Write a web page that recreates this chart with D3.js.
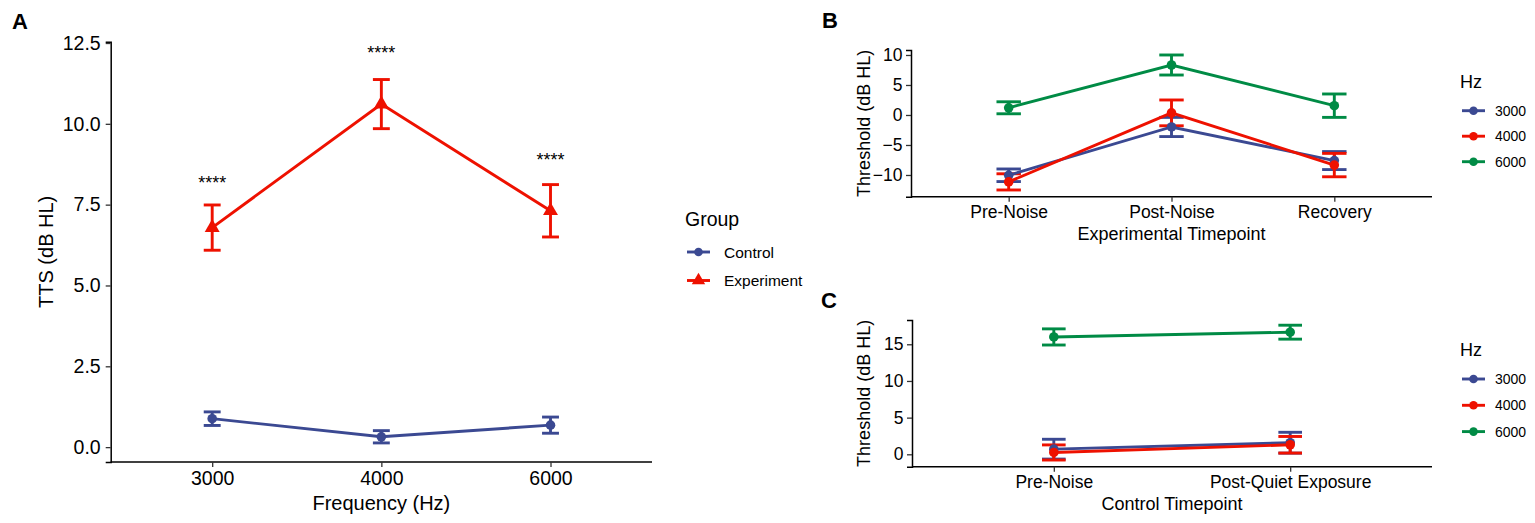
<!DOCTYPE html>
<html>
<head>
<meta charset="utf-8">
<script src="https://cdn.jsdelivr.net/npm/d3@7"></script>
<style>
  body { margin: 0; background: #fff; }
  svg { display: block; font-family: "Liberation Sans", Arial, sans-serif; }
</style>
</head>
<body>
<div id="chart-container"></div>
<script>
// ---- data ----
// Panel A: TTS by frequency
const freqs = ["3000", "4000", "6000"];
const ttsControl = [0.88, 0.32, 0.68];
const ttsControlSe = [0.21, 0.19, 0.25];
const ttsExperiment = [6.79, 10.61, 7.31];
const ttsExperimentSe = [0.70, 0.76, 0.81];
const sigLabels = ["****", "****", "****"];
const sigLabelY = [8.3, 12.3, 9.0];
const ticksA = [0, 2.5, 5, 7.5, 10, 12.5];

// Panel B: experimental group thresholds
const timepointsB = ["Pre-Noise", "Post-Noise", "Recovery"];
const b3000 = [-10.05, -2.0, -7.6];
const b3000Se = [1.05, 1.6, 1.5];
const b4000 = [-11.15, 0.35, -8.35];
const b4000Se = [1.35, 2.15, 1.95];
const b6000 = [1.2, 8.33, 1.55];
const b6000Se = [1.0, 1.67, 1.95];
const ticksB = [-10, -5, 0, 5, 10];

// Panel C: control group thresholds
const timepointsC = ["Pre-Noise", "Post-Quiet Exposure"];
const c3000 = [0.7, 1.58];
const c3000Se = [1.35, 1.42];
const c4000 = [0.25, 1.3];
const c4000Se = [1.03, 1.13];
const c6000 = [16.0, 16.65];
const c6000Se = [1.1, 0.95];
const ticksC = [0, 5, 10, 15];

const hzNames = ["3000", "4000", "6000"];
const groupNames = ["Control", "Experiment"];

// AAAS-like palette
const blue = "#3B4992", red = "#EE1100", green = "#008B45";
const lw = 2.9;

const svg = d3.select("#chart-container")
    .append("svg")
    .attr("width", 1535)
    .attr("height", 523);

svg.append("rect").attr("width", 1535).attr("height", 523).attr("fill", "#fff");

function drawPoint(g, shape, cx, cy, color, r) {
    if (shape === "triangle") {
        g.append("path")
            .attr("d", d3.symbol().type(d3.symbolTriangle).size(r * r * 4.2)())
            .attr("transform", `translate(${cx},${cy})`)
            .attr("fill", color);
    } else {
        g.append("circle")
            .attr("cx", cx).attr("cy", cy).attr("r", r)
            .attr("fill", color);
    }
}

function drawPanel(cfg) {
    const x = d3.scalePoint()
        .domain(cfg.cats)
        .range(cfg.xRange)
        .padding(0.6);

    const y = d3.scaleLinear()
        .domain(cfg.yDomain)
        .range(cfg.yRange);

    const g = svg.append("g");
    const capHalf = x.step() * cfg.capFrac / 2;

    // error bars
    cfg.series.forEach(s => {
        cfg.cats.forEach((c, i) => {
            const cx = x(c);
            const lo = y(s.mean[i] - s.se[i]);
            const hi = y(s.mean[i] + s.se[i]);
            const eb = g.append("g")
                .attr("stroke", s.color)
                .attr("stroke-width", lw);
            eb.append("line").attr("x1", cx).attr("x2", cx).attr("y1", lo).attr("y2", hi);
            eb.append("line").attr("x1", cx - capHalf).attr("x2", cx + capHalf).attr("y1", lo).attr("y2", lo);
            eb.append("line").attr("x1", cx - capHalf).attr("x2", cx + capHalf).attr("y1", hi).attr("y2", hi);
        });
    });

    // lines
    const line = d3.line()
        .x((d, i) => x(cfg.cats[i]))
        .y(d => y(d));

    cfg.series.forEach(s => {
        g.append("path")
            .datum(s.mean)
            .attr("fill", "none")
            .attr("stroke", s.color)
            .attr("stroke-width", lw)
            .attr("d", line);
    });

    // points
    cfg.series.forEach(s => {
        s.mean.forEach((m, i) => drawPoint(g, s.shape, x(cfg.cats[i]), y(m), s.color, 4.8));
    });

    // axes
    const xAxis = g.append("g")
        .attr("transform", `translate(0,${cfg.yRange[0]})`)
        .call(d3.axisBottom(x).tickSizeOuter(0).tickSize(5).tickPadding(cfg.xPad));
    const yAxis = g.append("g")
        .attr("transform", `translate(${cfg.xRange[0]},0)`)
        .call(d3.axisLeft(y).tickValues(cfg.yTicks).tickFormat(cfg.fmt).tickSizeOuter(0).tickSize(5).tickPadding(cfg.yPad));

    [xAxis, yAxis].forEach(a => {
        a.attr("font-family", null).attr("font-size", null);
        a.select(".domain").attr("stroke", "#000").attr("stroke-width", 1.5);
        a.selectAll(".tick line").attr("stroke", "#333").attr("stroke-width", 1.3);
        a.selectAll(".tick text").attr("fill", "#000").style("font-size", cfg.tickFont + "px");
    });
    xAxis.select(".domain").attr("d", `M${cfg.xRange[0]},0H${cfg.xRange[1]}`);

    // axis titles
    g.append("text")
        .attr("x", (cfg.xRange[0] + cfg.xRange[1]) / 2)
        .attr("y", cfg.xTitleY)
        .attr("text-anchor", "middle")
        .style("font-size", cfg.titleFont + "px")
        .text(cfg.xTitle);

    g.append("text")
        .attr("transform", `translate(${cfg.yTitleX},${(cfg.yRange[0] + cfg.yRange[1]) / 2}) rotate(-90)`)
        .attr("text-anchor", "middle")
        .attr("dy", "0.36em")
        .style("font-size", cfg.titleFont + "px")
        .text(cfg.yTitle);

    // panel letter
    g.append("text")
        .attr("x", cfg.letterPos[0])
        .attr("y", cfg.letterPos[1])
        .style("font-size", "22px")
        .style("font-weight", "bold")
        .text(cfg.letter);

    // legend
    const lg = g.append("g").attr("transform", `translate(${cfg.legend.x},0)`);
    lg.append("text")
        .attr("x", 0)
        .attr("y", cfg.legend.titleY)
        .attr("dy", "0.36em")
        .style("font-size", cfg.legend.titleFont + "px")
        .text(cfg.legend.title);
    cfg.series.forEach((s, i) => {
        const ly = cfg.legend.y0 + i * cfg.legend.step;
        lg.append("line")
            .attr("x1", 2).attr("x2", 25)
            .attr("y1", ly).attr("y2", ly)
            .attr("stroke", s.color)
            .attr("stroke-width", lw);
        drawPoint(lg, s.shape, 13.5, ly, s.color, 4.3);
        lg.append("text")
            .attr("x", cfg.legend.textX)
            .attr("y", ly)
            .attr("dy", "0.36em")
            .style("font-size", cfg.legend.labelFont + "px")
            .text(s.name);
    });

    return { g, x, y };
}

// ---- Panel A ----
const panelA = drawPanel({
    cats: freqs,
    series: [
        { name: groupNames[0], color: blue, mean: ttsControl, se: ttsControlSe, shape: "circle" },
        { name: groupNames[1], color: red, mean: ttsExperiment, se: ttsExperimentSe, shape: "triangle" }
    ],
    xRange: [110.7, 652],
    yDomain: [-0.46, 12.54],
    yRange: [462, 41.7],
    yTicks: ticksA,
    fmt: d3.format(".1f"),
    capFrac: 0.1,
    tickFont: 19.5,
    titleFont: 20,
    xPad: 4.5,
    yPad: 5,
    xTitle: "Frequency (Hz)",
    xTitleY: 510,
    yTitle: "TTS (dB HL)",
    yTitleX: 45.5,
    letter: "A",
    letterPos: [12, 29],
    legend: { x: 685, title: "Group", titleY: 219, titleFont: 19.5, y0: 252, step: 28.5, textX: 39, labelFont: 15.5 }
});

// significance marks
panelA.g.selectAll(".sig")
    .data(freqs)
    .join("text")
    .attr("class", "sig")
    .attr("x", d => panelA.x(d))
    .attr("y", (d, i) => panelA.y(sigLabelY[i]) + 10)
    .attr("text-anchor", "middle")
    .style("font-size", "18px")
    .text((d, i) => sigLabels[i]);

// ---- Panel B ----
drawPanel({
    cats: timepointsB,
    series: [
        { name: hzNames[0], color: blue, mean: b3000, se: b3000Se, shape: "circle" },
        { name: hzNames[1], color: red, mean: b4000, se: b4000Se, shape: "circle" },
        { name: hzNames[2], color: green, mean: b6000, se: b6000Se, shape: "circle" }
    ],
    xRange: [911, 1432],
    yDomain: [-13.62, 10.83],
    yRange: [196.7, 50],
    yTicks: ticksB,
    fmt: d3.format("d"),
    capFrac: 0.15,
    tickFont: 17.5,
    titleFont: 18,
    xPad: 4.3,
    yPad: 3.5,
    xTitle: "Experimental Timepoint",
    xTitleY: 240,
    yTitle: "Threshold (dB HL)",
    yTitleX: 864,
    letter: "B",
    letterPos: [822, 28],
    legend: { x: 1460, title: "Hz", titleY: 81.7, titleFont: 18, y0: 110.7, step: 25.5, textX: 35, labelFont: 14 }
});

// ---- Panel C ----
drawPanel({
    cats: timepointsC,
    series: [
        { name: hzNames[0], color: blue, mean: c3000, se: c3000Se, shape: "circle" },
        { name: hzNames[1], color: red, mean: c4000, se: c4000Se, shape: "circle" },
        { name: hzNames[2], color: green, mean: c6000, se: c6000Se, shape: "circle" }
    ],
    xRange: [912, 1432],
    yDomain: [-1.69, 18.31],
    yRange: [466.7, 320],
    yTicks: ticksC,
    fmt: d3.format("d"),
    capFrac: 0.1,
    tickFont: 17.5,
    titleFont: 18,
    xPad: 3.7,
    yPad: 3.5,
    xTitle: "Control Timepoint",
    xTitleY: 509.5,
    yTitle: "Threshold (dB HL)",
    yTitleX: 864,
    letter: "C",
    letterPos: [821, 308],
    legend: { x: 1460, title: "Hz", titleY: 350, titleFont: 18, y0: 379, step: 26.3, textX: 35, labelFont: 14 }
});
</script>
</body>
</html>
